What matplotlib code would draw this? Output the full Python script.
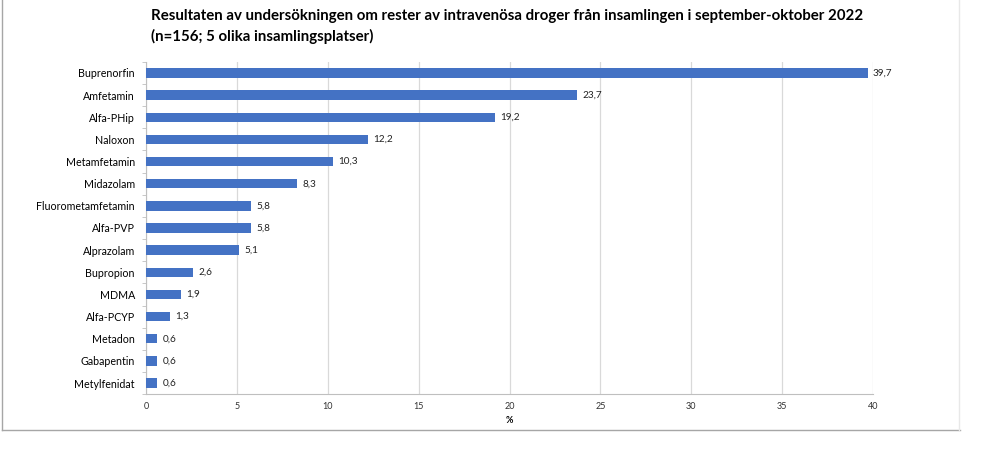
import matplotlib.pyplot as plt
from matplotlib.lines import Line2D

categories = ["Buprenorfin", "Amfetamin", "Alfa-PHip", "Naloxon", "Metamfetamin",
              "Midazolam", "Fluorometamfetamin", "Alfa-PVP", "Alprazolam", "Bupropion",
              "MDMA", "Alfa-PCYP", "Metadon", "Gabapentin", "Metylfenidat"]
values = [39.7, 23.7, 19.2, 12.2, 10.3, 8.3, 5.8, 5.8, 5.1, 2.6, 1.9, 1.3, 0.6, 0.6, 0.6]
xticks = [0, 5, 10, 15, 20, 25, 30, 35, 40]

plt.rcParams['font.family'] = ['Lato', 'DejaVu Sans']

fig = plt.figure(figsize=(10, 4.62), dpi=100)
ax = fig.add_axes([0.146, 0.147, 0.727, 0.719])

y = list(range(len(categories)))
ax.barh(y, values, height=0.42, color='#4472C4', zorder=3)
for yi, v in zip(y, values):
    ax.text(v + 0.3, yi, f"{v:.1f}".replace('.', ','), va='center', ha='left',
            fontsize=7.2, color='#222222')

ax.set_ylim(len(categories) - 0.5, -0.5)
ax.set_xlim(0, 40)
ax.set_yticks(y)
ax.set_yticklabels(categories, fontsize=7.7)
ax.set_yticks([i + 0.5 for i in range(-1, len(categories))], minor=True)
ax.tick_params(axis='y', which='major', length=0, pad=8)
ax.tick_params(axis='y', which='minor', length=3, color='#bfbfbf')
ax.set_xticks(xticks)
ax.set_xticklabels([str(t) for t in xticks], fontsize=6.5, color='#333333')
ax.tick_params(axis='x', length=0, pad=6)
ax.grid(axis='x', color='#d9d9d9', linewidth=0.9, zorder=0)
ax.set_xlabel('%', fontsize=6.5, fontweight='bold', labelpad=3)

for s in ['top', 'right']:
    ax.spines[s].set_visible(False)
ax.spines['left'].set_color('#bfbfbf')
ax.spines['bottom'].set_color('#bfbfbf')

fig.text(0.151, 0.965, "Resultaten av undersökningen om rester av intravenösa droger från insamlingen i september-oktober 2022",
         fontsize=10.85, fontweight='bold', ha='left', va='center')
fig.text(0.151, 0.922, "(n=156; 5 olika insamlingsplatser)",
         fontsize=10.85, fontweight='bold', ha='left', va='center')

# outer frame
fig.add_artist(Line2D([0.002, 0.002], [1.0, 0.069], color='#a6a6a6', linewidth=1, transform=fig.transFigure))
fig.add_artist(Line2D([0.002, 0.96], [0.069, 0.069], color='#a6a6a6', linewidth=1, transform=fig.transFigure))
fig.add_artist(Line2D([0.959, 0.959], [1.0, 0.069], color='#e8e8e8', linewidth=1, transform=fig.transFigure))

fig.savefig('out.png', dpi=100)
